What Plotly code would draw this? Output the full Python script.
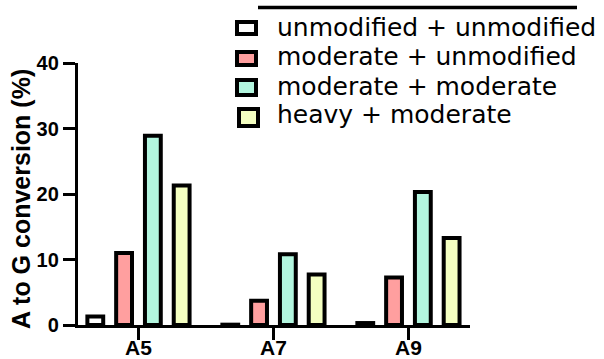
import plotly.graph_objects as go

# ---- data ----
categories = ["A5", "A7", "A9"]
series_names = ["unmodified + unmodified", "moderate + unmodified",
                "moderate + moderate", "heavy + moderate"]
unmod_unmod = [1.3, 0.05, 0.3]
mod_unmod = [11.0, 3.7, 7.25]
mod_mod = [28.9, 10.8, 20.3]
heavy_mod = [21.3, 7.7, 13.3]
y_ticks = [0, 10, 20, 30, 40]
y_title = "A to G conversion (%)"

series_values = [unmod_unmod, mod_unmod, mod_mod, heavy_mod]
colors = ["#FFFFFF", "#FF9F9F", "#B3F6DF", "#F4FFC1"]

W, H = 604, 359
PL, PR, PT, PB = 78, 470, 63, 325   # target plot-area pixel edges
ML, MR, MT, MB = PL, W - PR, PT, H - PB
PW, PH = W - ML - MR, H - MT - MB


def px2x(px):
    return (px - PL) / PW


def py2y(py):
    return (PB - py) / PH


fig = go.Figure()
for name, vals, col in zip(series_names, series_values, colors):
    fig.add_trace(go.Bar(
        x=categories, y=vals, name=name,
        marker=dict(color=col, line=dict(color="black", width=4)),
        showlegend=False,
    ))

bold = dict(family="Liberation Sans, Arial, sans-serif", color="black", weight="bold")

fig.update_layout(
    template="none",
    width=W, height=H,
    margin=dict(l=ML, r=MR, t=MT, b=MB, pad=0, autoexpand=False),
    paper_bgcolor="white", plot_bgcolor="white",
    barmode="group", bargap=0.147, bargroupgap=0.45,
    xaxis=dict(
        range=[-0.448, 2.456], showgrid=False, zeroline=False, automargin=False,
        showline=True, linecolor="black", linewidth=3.3,
        ticks="outside", ticklen=12, tickwidth=3.3, tickcolor="black",
        tickfont=dict(size=21, **bold), ticklabelstandoff=-10,
    ),
    yaxis=dict(
        range=[0, 40], tickvals=y_ticks, showgrid=False, zeroline=False,
        automargin=False,
        showline=True, linecolor="black", linewidth=3.3,
        ticks="outside", ticklen=12, tickwidth=3.3, tickcolor="black",
        tickfont=dict(size=20, **bold),
    ),
    showlegend=False,
)

# y axis title
fig.add_annotation(
    text=y_title, textangle=-90, xref="paper", yref="paper",
    x=px2x(21), y=py2y(199), xanchor="center", yanchor="middle",
    showarrow=False, font=dict(size=25, **bold),
)

# legend (drawn manually)
fig.add_shape(type="line", xref="paper", yref="paper",
              x0=px2x(258), x1=px2x(577), y0=py2y(7.5), y1=py2y(7.5),
              line=dict(color="black", width=3.5))
# swatch boxes (pixel geometry: x0, x1, y0, y1)
swatch_boxes = [(237, 256, 22, 34), (237, 256, 52, 65),
                (237, 256, 80, 95), (239, 258, 109, 126)]
txt_centers = [27.4, 56.6, 86.4, 114.8]
for name, col, (bx0, bx1, by0, by1), ty in zip(series_names, colors,
                                               swatch_boxes, txt_centers):
    fig.add_shape(type="rect", xref="paper", yref="paper",
                  x0=px2x(bx0), x1=px2x(bx1), y0=py2y(by1), y1=py2y(by0),
                  fillcolor=col, line=dict(color="black", width=4))
    fig.add_annotation(
        text=name, xref="paper", yref="paper",
        x=px2x(275), y=py2y(ty), xanchor="left", yanchor="middle",
        showarrow=False,
        font=dict(family="DejaVu Sans", size=25, color="black"),
    )

fig.write_html(
    "out.html",
    config={"displayModeBar": False},
    post_script="document.body.style.margin='0';document.body.style.padding='0';"
                "document.body.style.overflow='hidden';",
)
